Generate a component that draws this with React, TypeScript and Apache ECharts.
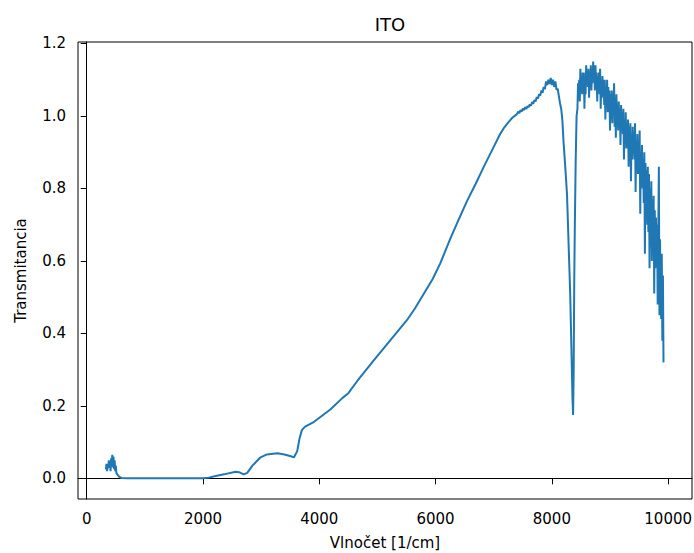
import React, { useEffect, useRef } from "react";
import * as echarts from "echarts";

const title = "ITO";
const xAxisName = "Vlnočet [1/cm]";
const yAxisName = "Transmitancia";
const xTicks = [0, 2000, 4000, 6000, 8000, 10000];
const yTicks = [0, 0.2, 0.4, 0.6, 0.8, 1.0, 1.2];

const wavenumber = [
  330, 340, 350, 360, 370, 380, 390, 400, 410, 420, 430, 440, 450, 460, 470, 480, 490, 500, 510, 530, 560, 600, 700,
  1000, 1500, 2000, 2100, 2200, 2360, 2560, 2620, 2700, 2760, 2850, 2990, 3100, 3280, 3400, 3510, 3565, 3620, 3660,
  3700, 3750, 3910, 4190, 4400, 4500, 4650, 4940, 5220, 5510, 5650, 5800, 5950, 6080, 6250, 6400, 6540, 6690, 6830,
  6970, 7110, 7180, 7250, 7320,
  7400, 7420, 7440, 7460, 7480, 7500, 7520, 7540, 7560, 7580, 7600, 7620, 7640, 7660, 7680, 7700, 7720, 7740, 7760,
  7780, 7800, 7820, 7840, 7860, 7880, 7900, 7920, 7940, 7960, 7980, 8000, 8020, 8040, 8060, 8080, 8100, 8120, 8140,
  8160, 8180, 8200, 8230, 8260, 8285, 8315, 8340, 8355, 8365, 8375, 8385, 8395, 8410, 8425,
  8440, 8450, 8460, 8470, 8480, 8490, 8500, 8510, 8520, 8530,
  8540, 8550, 8560, 8570, 8580, 8590, 8600, 8610, 8620, 8630,
  8640, 8650, 8660, 8670, 8680, 8690, 8700, 8710, 8720, 8730,
  8740, 8750, 8760, 8770, 8780, 8790, 8800, 8810, 8820, 8830,
  8840, 8850, 8860, 8870, 8880, 8890, 8900, 8910, 8920, 8930,
  8940, 8950, 8960, 8970, 8980, 8990, 9000, 9010, 9020, 9030,
  9040, 9050, 9060, 9070, 9080, 9090, 9100, 9110, 9120, 9130,
  9140, 9150, 9160, 9170, 9180, 9190, 9200, 9210, 9220, 9230,
  9240, 9250, 9260, 9270, 9280, 9290, 9300, 9310, 9320, 9330,
  9340, 9350, 9360, 9370, 9380, 9390, 9400, 9410, 9420, 9430,
  9440, 9450, 9460, 9470, 9480, 9490, 9500, 9510, 9520, 9530,
  9540, 9550, 9560, 9570, 9580, 9590, 9600, 9610, 9620, 9630,
  9640, 9650, 9660, 9670, 9680, 9690, 9700, 9710, 9720, 9730,
  9740, 9750, 9760, 9770, 9780, 9790, 9800, 9810, 9820, 9830,
  9840, 9850, 9860, 9870, 9880, 9890, 9900, 9910, 9920,
];

const transmittance = [
  0.025, 0.04, 0.02, 0.035, 0.028, 0.05, 0.03, 0.045, 0.02, 0.055, 0.035, 0.065, 0.03, 0.06, 0.025, 0.05, 0.02, 0.035,
  0.015, 0.01, 0.004, 0.001, 0.0,
  0.0, 0.0, 0.0, 0.002, 0.006, 0.011, 0.018, 0.017, 0.011, 0.015, 0.035, 0.058, 0.066, 0.069, 0.066, 0.061, 0.058,
  0.075, 0.11, 0.133, 0.142, 0.156, 0.19, 0.222, 0.235, 0.268, 0.326, 0.381, 0.437, 0.47, 0.51, 0.55, 0.593, 0.66,
  0.715, 0.765, 0.813, 0.86, 0.905, 0.95, 0.968, 0.982, 0.995,
  1.005, 1.012, 1.008, 1.016, 1.012, 1.02, 1.016, 1.024, 1.019, 1.027, 1.024, 1.032, 1.028, 1.038, 1.034, 1.044, 1.04,
  1.052, 1.048, 1.06, 1.056, 1.07, 1.064, 1.08, 1.074, 1.095, 1.085, 1.1, 1.088, 1.105, 1.085, 1.1, 1.08, 1.095, 1.072,
  1.075, 1.055, 1.035, 1.02, 0.99, 0.93, 0.86, 0.785, 0.66, 0.51, 0.33, 0.22, 0.175, 0.3, 0.55, 0.7, 0.88, 1.0,
  1.02, 1.09, 1.05, 1.1, 1.04, 1.13, 1.07, 1.11, 1.06, 1.12,
  1.08, 1.12, 1.02, 1.1, 1.06, 1.14, 1.09, 1.12, 1.08, 1.13,
  1.05, 1.12, 1.08, 1.14, 1.07, 1.12, 1.09, 1.15, 1.1, 1.14,
  1.07, 1.14, 1.09, 1.12, 1.04, 1.11, 1.07, 1.12, 1.06, 1.13,
  1.02, 1.1, 1.05, 1.11, 1.06, 1.1, 1.03, 1.1, 0.99, 1.08,
  1.03, 1.1, 1.01, 1.08, 1.03, 1.07, 0.96, 1.06, 1.0, 1.07,
  0.98, 1.06, 1.01, 1.09, 0.97, 1.05, 0.94, 1.06, 0.99, 1.03,
  0.96, 1.04, 0.98, 1.02, 0.92, 1.03, 0.96, 1.01, 0.95, 1.02,
  0.88, 0.99, 0.93, 1.01, 0.91, 0.98, 0.94, 0.99, 0.86, 0.97,
  0.9, 0.98, 0.82, 0.95, 0.88, 0.97, 0.9, 0.94, 0.88, 0.98,
  0.79, 0.93, 0.86, 0.95, 0.84, 0.92, 0.86, 0.96, 0.73, 0.9,
  0.82, 0.92, 0.8, 0.88, 0.76, 0.9, 0.62, 0.87, 0.72, 0.85,
  0.7, 0.86, 0.68, 0.84, 0.58, 0.8, 0.64, 0.82, 0.6, 0.77,
  0.66, 0.78, 0.51, 0.74, 0.58, 0.72, 0.6, 0.7, 0.48, 0.68,
  0.86, 0.45, 0.66, 0.5, 0.44, 0.62, 0.38, 0.56, 0.32,
];

const FONT = "DejaVu Sans";

export default function App() {
  const ref = useRef<HTMLDivElement>(null);
  useEffect(() => {
    if (!ref.current) return;
    const chart = echarts.init(ref.current, undefined, { renderer: "svg" });
    const data = wavenumber.map((x, i) => [x, transmittance[i]]);
    chart.setOption({
      animation: false,
      backgroundColor: "#ffffff",
      title: {
        text: title,
        left: 385,
        top: 10,
        textAlign: "center",
        textStyle: { fontFamily: FONT, fontSize: 18, fontWeight: "normal", color: "#000" },
      },
      grid: {
        left: 78,
        right: 2,
        top: 42,
        bottom: 54,
        show: true,
        borderColor: "#000",
        borderWidth: 1,
        backgroundColor: "transparent",
        containLabel: false,
        outerBoundsMode: "none",
      },
      xAxis: {
        type: "value",
        min: -150,
        max: 10410,
        name: xAxisName,
        nameLocation: "middle",
        nameGap: 36,
        nameTextStyle: { fontFamily: FONT, fontSize: 15, color: "#000" },
        axisLine: { show: true, lineStyle: { color: "#000", width: 1 } },
        axisTick: { show: true, length: 6, customValues: xTicks, lineStyle: { color: "#000" } },
        axisLabel: {
          customValues: xTicks,
          margin: 12,
          fontFamily: FONT,
          fontSize: 15,
          color: "#000",
          formatter: (v: number) => String(v),
        },
        splitLine: { show: false },
      },
      yAxis: {
        type: "value",
        min: -0.057,
        max: 1.204,
        name: yAxisName,
        nameLocation: "middle",
        nameGap: 50,
        nameTextStyle: { fontFamily: FONT, fontSize: 15, color: "#000" },
        axisLine: { show: true, lineStyle: { color: "#000", width: 1 } },
        axisTick: { show: true, length: 6, customValues: yTicks, lineStyle: { color: "#000" } },
        axisLabel: {
          customValues: yTicks,
          margin: 12,
          fontFamily: FONT,
          fontSize: 15,
          color: "#000",
          formatter: (v: number) => v.toFixed(1),
        },
        splitLine: { show: false },
      },
      series: [
        {
          type: "line",
          data,
          showSymbol: false,
          symbol: "none",
          lineStyle: { color: "#1f77b4", width: 2 },
          clip: true,
        },
      ],
    });
    return () => chart.dispose();
  }, []);
  return <div ref={ref} style={{ position: "fixed", left: 0, top: 0, width: 694, height: 553 }} />;
}
